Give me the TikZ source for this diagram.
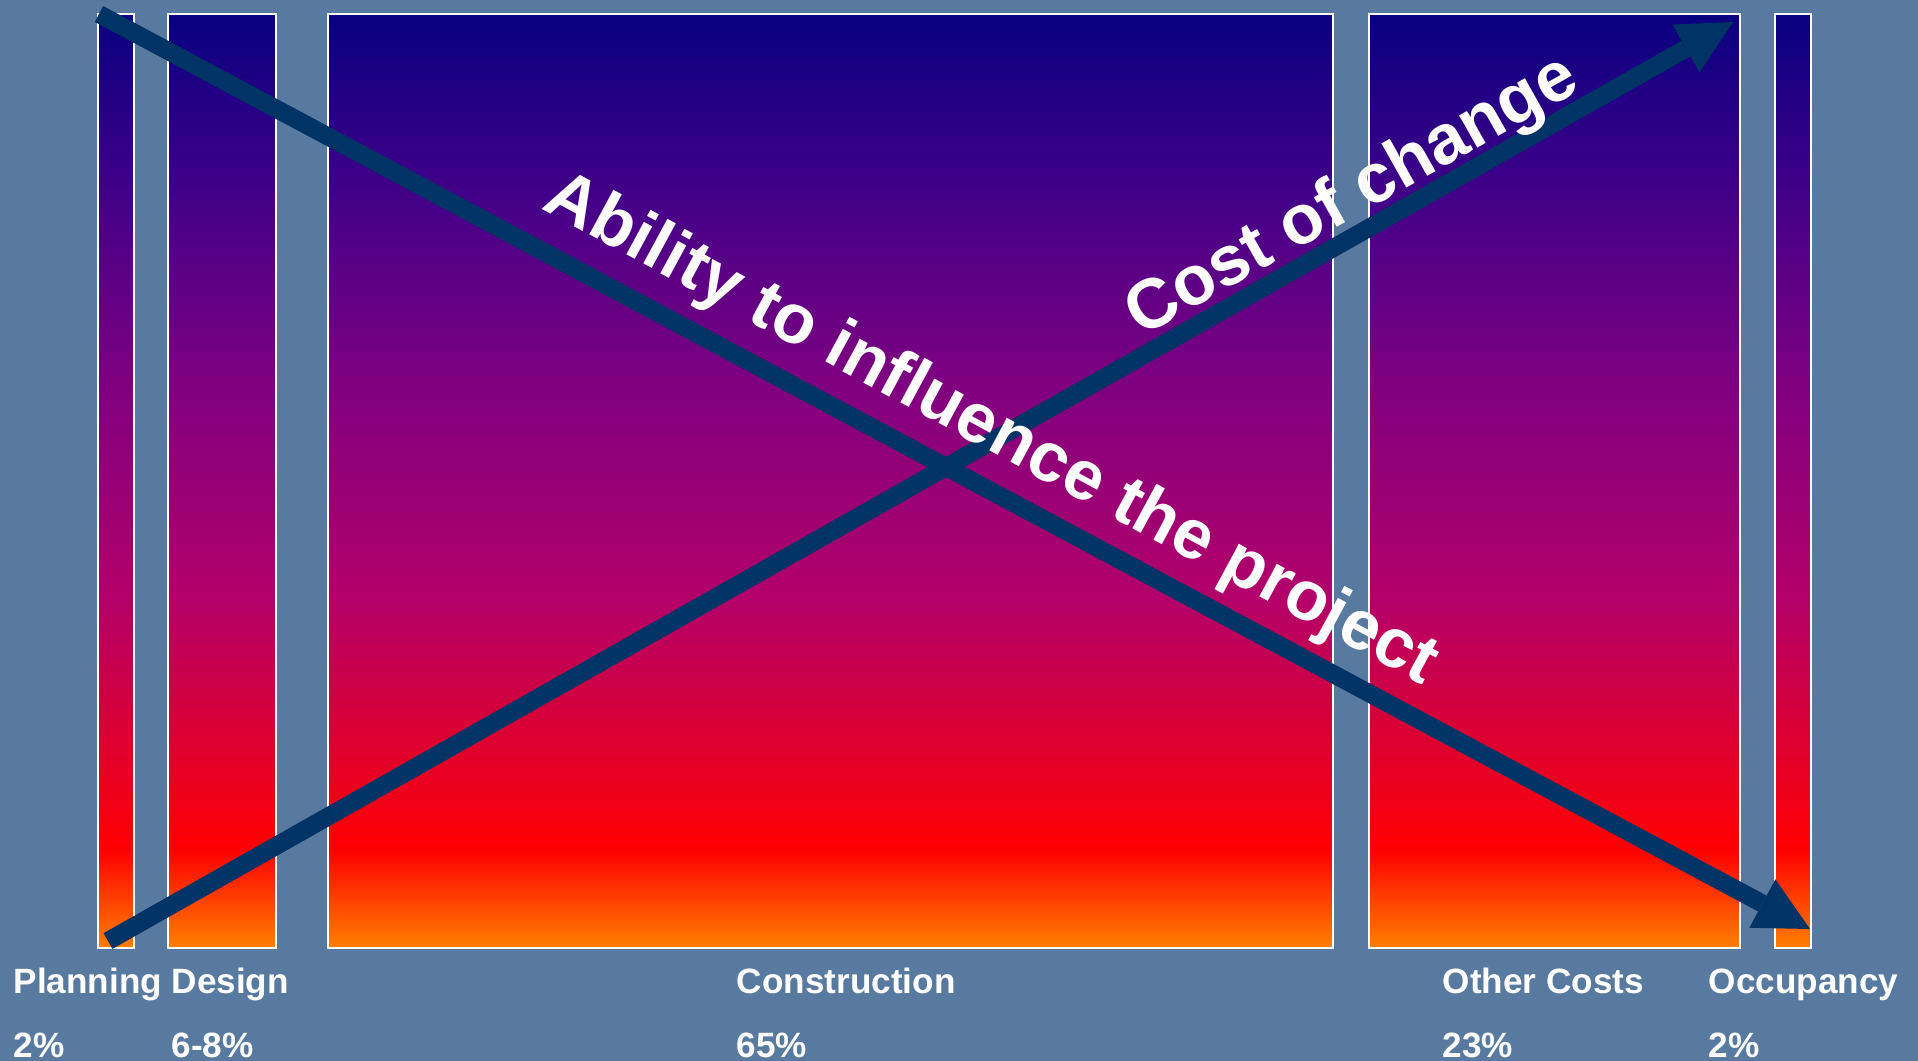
\documentclass[tikz,border=0pt]{standalone}
\usepackage{fontspec}
\setmainfont{Liberation Sans}
\usetikzlibrary{arrows.meta}

\definecolor{bgblue}{RGB}{88,121,160}
\definecolor{trendblue}{RGB}{0,51,102}
\definecolor{firenavy}{RGB}{8,0,128}
\definecolor{fire0}{RGB}{68,0,136}
\definecolor{firepurple}{RGB}{128,0,128}
\definecolor{fire1}{RGB}{180,0,105}
\definecolor{fire2}{RGB}{208,0,64}
\definecolor{fire3}{RGB}{240,0,24}
\definecolor{firered}{RGB}{255,0,0}
\definecolor{fireorange}{RGB}{255,128,0}

\pgfdeclareverticalshading{barfire}{100bp}{color(0bp)=(fireorange); color(25bp)=(fireorange);
  color(30.25bp)=(firered); color(33bp)=(fire3); color(38.3bp)=(fire2); color(43.65bp)=(fire1);
  color(55bp)=(firepurple); color(65bp)=(fire0); color(75bp)=(firenavy); color(100bp)=(firenavy)}

\begin{document}
\begin{tikzpicture}[x=0.01cm, y=-0.01cm,
        bar/.style={draw=white, line width=0.02cm, shading=barfire, minimum height=9.34cm, inner sep=0pt},
        trend/.style={draw=trendblue, line width=0.18cm, -{Triangle[length=0.54cm, width=0.55cm, line width=0pt]}},
        phase/.style={text=white, font=\bfseries\fontsize{10}{12}\selectfont, anchor=base west, inner sep=0pt},
        slogan/.style={text=white, font=\bfseries\fontsize{19.9}{24}\selectfont, anchor=base west, inner sep=0pt}]
        \useasboundingbox (0,0) rectangle (1918,1061);
        \fill[bgblue] (0,0) rectangle (1918,1061);

        %draw bars by coordinates
        \node[bar, minimum width=0.36cm] (planbar) at (116,481) {};
        \node[bar, minimum width=1.08cm] (designbar) at (222,481) {};
        \node[bar, minimum width=10.05cm] (constbar) at (830.5,481) {};
        \node[bar, minimum width=3.71cm] (otherbar) at (1554.5,481) {};
        \node[bar, minimum width=0.36cm] (occbar) at (1793,481) {};

        % phase names and shares
        \node[phase] (planlabel) at (13,993) {Planning};
        \node[phase] (designlabel) at (171,993) {Design};
        \node[phase] (constlabel) at (736,993) {Construction};
        \node[phase] (otherlabel) at (1442,993) {Other Costs};
        \node[phase] (occlabel) at (1708,993) {Occupancy};
        \node[phase] (planpct) at (13,1057) {2\%};
        \node[phase] (designpct) at (171,1057) {6-8\%};
        \node[phase] (constpct) at (736,1057) {65\%};
        \node[phase] (otherpct) at (1442,1057) {23\%};
        \node[phase] (occpct) at (1708,1057) {2\%};

        % Draw trend arrows
        \coordinate (abilitytail) at (99,14);
        \coordinate (abilitytip) at (1810,929);
        \coordinate (costtail) at (108,941);
        \coordinate (costtip) at (1733,22);
        \draw[trend] (abilitytail) -- (abilitytip);
        \draw[trend] (costtail) -- (costtip);

        \node[slogan, rotate=-28.4] (abilitytext) at (540,208) {Ability to influence the project};
        \node[slogan, rotate=29.4] (costtext) at (1141,338) {Cost of change};
    \end{tikzpicture}
\end{document}
